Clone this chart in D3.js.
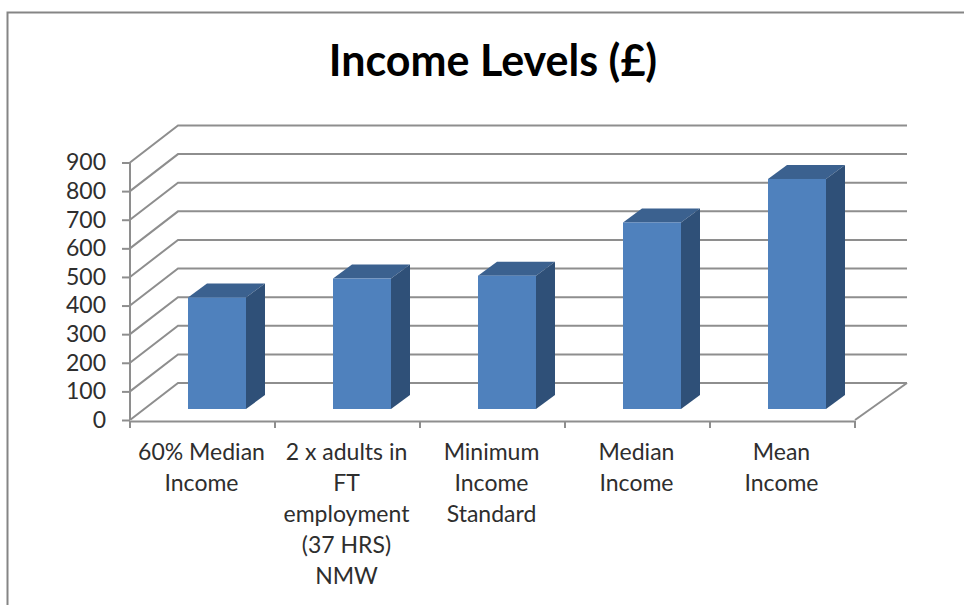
<!DOCTYPE html>
<html>
<head>
<meta charset="utf-8">
<script src="https://cdn.jsdelivr.net/npm/d3@7"></script>
<style>
    html, body { margin: 0; padding: 0; background: #fff; overflow: hidden; }
    svg { display: block; }
    text { font-family: Lato, "Open Sans", sans-serif; }
</style>
</head>
<body>
<svg width="964" height="605"></svg>
<script>
const title = "Income Levels (£)"
const categories = ["60% Median Income", "2 x adults in FT employment (37 HRS) NMW", "Minimum Income Standard", "Median Income", "Mean Income"]
const categoryLines = [
    ["60% Median", "Income"],
    ["2 x adults in", "FT", "employment", "(37 HRS)", "NMW"],
    ["Minimum", "Income", "Standard"],
    ["Median", "Income"],
    ["Mean", "Income"]
]
const values = [390, 456, 466, 652, 804]
const yTicks = [0, 100, 200, 300, 400, 500, 600, 700, 800, 900]

const svg = d3.select("svg")

// область графика
const area = {left: 130, right: 855, top: 162.5, bottom: 420}
const depth = {x: 48, y: 37}       // смещение задней стенки
const barDepth = {x: 19, y: 14}    // глубина столбца
const floorGap = 11                // столбец стоит чуть дальше передней грани пола

const gridColor = "#8e8e8e"
const textColor = "#2e2e2e"

const scaleX = d3.scaleBand().domain(categories).range([area.left, area.right])
const scaleY = d3.scaleLinear().domain([0, 900]).range([area.bottom, area.top])

// рамка
svg.append("path")
    .attr("d", "M7.5,605 V12.5 H964")
    .style("fill", "none")
    .style("stroke", "#858585")
    .style("stroke-width", 2)

svg.append("text")
    .attr("x", 493)
    .attr("y", 76)
    .attr("text-anchor", "middle")
    .style("font-size", "43px")
    .style("font-weight", 700)
    .style("fill", "#000")
    .text(title)

// сетка: боковая стенка и задняя стенка
const grid = svg.append("g")
    .style("fill", "none")
    .style("stroke", gridColor)
    .style("stroke-width", 2)

grid.selectAll("path")
    .data(yTicks)
    .enter()
    .append("path")
    .attr("d", d => {
        const y = scaleY(d)
        return `M${area.left},${y} L${area.left + depth.x},${y - depth.y} H${area.right + depth.x + 4}`
    })

// правый край пола
grid.append("path")
    .attr("d", `M${area.right},${area.bottom} L${area.right + depth.x + 4},${area.bottom - depth.y}`)

// оси
const axisY = d3.axisLeft(scaleY).tickValues(yTicks).tickSize(8).tickPadding(16)
const gY = svg.append("g")
    .attr("transform", `translate(${area.left}, 0)`)
    .call(axisY)
gY.selectAll("text")
    .style("font-size", "23px")
    .style("fill", textColor)
gY.selectAll("line").style("stroke", gridColor).style("stroke-width", 2)
gY.select(".domain").remove()

svg.append("line")
    .attr("x1", area.left).attr("x2", area.left)
    .attr("y1", area.top).attr("y2", area.bottom)
    .style("stroke", gridColor).style("stroke-width", 2)

const axisX = d3.axisBottom(scaleX).tickSizeInner(0).tickSizeOuter(0).tickFormat("")
const gX = svg.append("g")
    .attr("transform", `translate(0, ${area.bottom + 1})`)
    .call(axisX)
gX.select(".domain").style("stroke", gridColor).style("stroke-width", 2)
gX.selectAll(".tick").remove()

// деления между категориями
const edges = categories.map(d => scaleX(d)).concat([area.right])
svg.selectAll(".edge")
    .data(edges)
    .enter()
    .append("line")
    .attr("class", "edge")
    .attr("x1", d => d).attr("x2", d => d)
    .attr("y1", area.bottom + 1).attr("y2", area.bottom + 8)
    .style("stroke", gridColor).style("stroke-width", 2)

// подписи категорий
const labels = svg.selectAll(".cat")
    .data(categories)
    .enter()
    .append("text")
    .attr("class", "cat")
    .attr("text-anchor", "middle")
    .style("font-size", "23px")
    .style("fill", textColor)

labels.each(function (d, i) {
    d3.select(this).selectAll("tspan")
        .data(categoryLines[i])
        .enter()
        .append("tspan")
        .attr("x", scaleX(d) + scaleX.bandwidth() / 2 - 1)
        .attr("y", (l, j) => 460 + j * 31)
        .text(l => l)
})

// столбцы
const barWidth = 58
const barX = d => scaleX(d) + (scaleX.bandwidth() - barWidth) / 2 + 14.5
const barY = v => scaleY(v) - floorGap
const barBase = area.bottom - floorGap

const bars = svg.selectAll(".bar")
    .data(categories.map((c, i) => ({c: c, v: values[i]})))
    .enter()
    .append("g")
    .attr("class", "bar")

// верхняя грань
bars.append("path")
    .attr("d", d => {
        const x = barX(d.c), y = barY(d.v)
        return `M${x},${y} l${barDepth.x},${-barDepth.y} h${barWidth} l${-barDepth.x},${barDepth.y} Z`
    })
    .style("fill", "#3b618f")

// боковая грань
bars.append("path")
    .attr("d", d => {
        const x = barX(d.c) + barWidth, y = barY(d.v)
        return `M${x},${y} l${barDepth.x},${-barDepth.y} V${barBase - barDepth.y} L${x},${barBase} Z`
    })
    .style("fill", "#2f5078")

// передняя грань
bars.append("rect")
    .attr("x", d => barX(d.c))
    .attr("y", d => barY(d.v))
    .attr("width", barWidth)
    .attr("height", d => barBase - barY(d.v))
    .style("fill", "#4f81bd")
</script>
</body>
</html>
